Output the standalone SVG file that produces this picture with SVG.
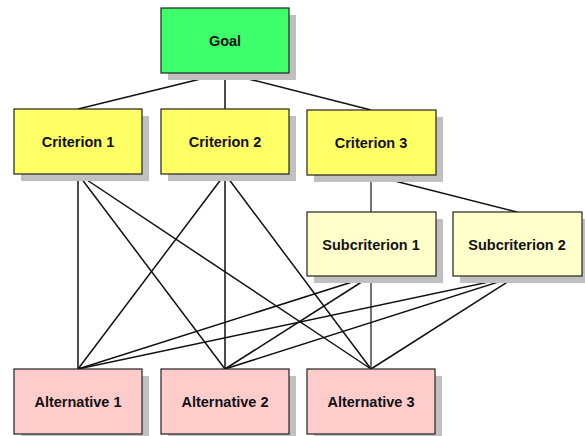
<svg xmlns="http://www.w3.org/2000/svg" width="585" height="436" viewBox="0 0 585 436">
<style>
.sh{fill:#c0c0c0}
.bx{stroke:#222;stroke-width:1.2}
.g{fill:#3dff6a}
.c{fill:#ffff66}
.s{fill:#ffffcc}
.a{fill:#ffcccc}
text{font-family:"Liberation Sans",Arial,sans-serif;font-weight:bold;font-size:14.5px;text-anchor:middle;fill:#111}
#connectors line{stroke:#111;stroke-width:1.5}
</style>
<rect width="585" height="436" fill="#fff"/>
<g id="connectors">
<line x1="225" y1="73" x2="78" y2="109"/>
<line x1="225" y1="73" x2="225" y2="109"/>
<line x1="225" y1="73" x2="371" y2="110"/>
<line x1="78" y1="174" x2="78" y2="369"/>
<line x1="78" y1="174" x2="225" y2="369"/>
<line x1="78" y1="174" x2="371" y2="369"/>
<line x1="225" y1="174" x2="78" y2="369"/>
<line x1="225" y1="174" x2="225" y2="369"/>
<line x1="225" y1="174" x2="371" y2="369"/>
<line x1="371" y1="175" x2="371" y2="212" style="stroke:#444"/>
<line x1="371" y1="175" x2="517" y2="212"/>
<line x1="371" y1="276" x2="78" y2="369"/>
<line x1="371" y1="276" x2="225" y2="369"/>
<line x1="371" y1="276" x2="371" y2="369" style="stroke:#444"/>
<line x1="517" y1="276" x2="78" y2="369"/>
<line x1="517" y1="276" x2="225" y2="369"/>
<line x1="517" y1="276" x2="371" y2="369"/>
</g>
<g id="goal"><rect class="sh" x="168" y="15" width="128" height="65"/><rect class="bx g" x="161" y="8" width="128" height="65"/><text x="225" y="46">Goal</text></g>
<g id="criterion1"><rect class="sh" x="21" y="116" width="128" height="65"/><rect class="bx c" x="14" y="109" width="128" height="65"/><text x="78" y="147">Criterion 1</text></g>
<g id="criterion2"><rect class="sh" x="168" y="116" width="128" height="65"/><rect class="bx c" x="161" y="109" width="128" height="65"/><text x="225" y="147">Criterion 2</text></g>
<g id="criterion3"><rect class="sh" x="314" y="117" width="129" height="65"/><rect class="bx c" x="307" y="110" width="129" height="65"/><text x="371" y="148">Criterion 3</text></g>
<g id="subcriterion1"><rect class="sh" x="314" y="219" width="129" height="64"/><rect class="bx s" x="307" y="212" width="129" height="64"/><text x="371" y="250">Subcriterion 1</text></g>
<g id="subcriterion2"><rect class="sh" x="460" y="219" width="129" height="64"/><rect class="bx s" x="453" y="212" width="129" height="64"/><text x="517" y="250">Subcriterion 2</text></g>
<g id="alternative1"><rect class="sh" x="21" y="376" width="128" height="65"/><rect class="bx a" x="14" y="369" width="128" height="65"/><text x="78" y="407">Alternative 1</text></g>
<g id="alternative2"><rect class="sh" x="168" y="376" width="128" height="65"/><rect class="bx a" x="161" y="369" width="128" height="65"/><text x="225" y="407">Alternative 2</text></g>
<g id="alternative3"><rect class="sh" x="314" y="376" width="128" height="65"/><rect class="bx a" x="307" y="369" width="128" height="65"/><text x="371" y="407">Alternative 3</text></g>
</svg>
